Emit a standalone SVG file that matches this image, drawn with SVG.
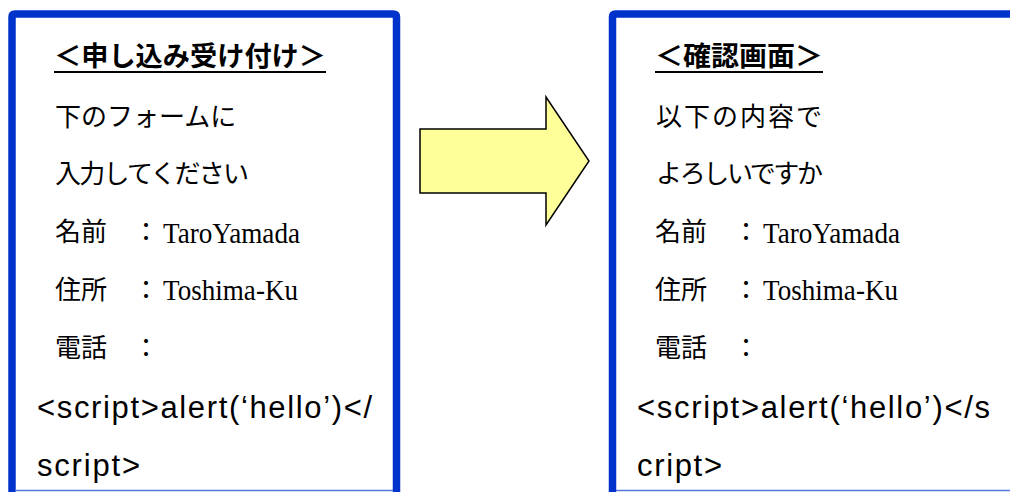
<svg xmlns="http://www.w3.org/2000/svg" width="1010" height="492" viewBox="0 0 1010 492">
<style>
.frame{fill:none;stroke:#0033CC;stroke-width:7.5;stroke-linejoin:round}
.base{stroke:#5577DD;stroke-width:1.5}
.jp{font-family:"Noto Sans CJK JP","Noto Sans",sans-serif;font-size:26px;fill:#000}
.title{font-weight:bold;font-size:27px}
.ul{stroke:#000;stroke-width:2}
.ser{font-family:"Liberation Serif",serif;font-size:29px;fill:#000}
.mono{font-family:"Liberation Sans",sans-serif;font-size:31px;fill:#000}
.arrow{fill:#FFFF99;stroke:#000;stroke-width:1.5;stroke-linejoin:miter}
</style>
<rect width="1010" height="492" fill="#fff"/>
<g id="input-screen">
  <path class="frame" d="M12,500 V17 Q12,14 15,14 H393 Q396.5,14 396.5,17 V500"/>
  <line class="base" x1="15" y1="490.5" x2="393" y2="490.5"/>
  <text class="jp title" x="54" y="66" textLength="272" lengthAdjust="spacingAndGlyphs">＜申し込み受け付け＞</text>
  <line class="ul" x1="54" y1="72" x2="326" y2="72"/>
  <text class="jp" x="55" y="126">下のフォームに</text>
  <text class="jp" x="55" y="183" textLength="194" lengthAdjust="spacing">入力してください</text>
  <text class="jp" x="55" y="241">名前　：</text>
  <text class="ser" x="163" y="243" textLength="137" lengthAdjust="spacingAndGlyphs">TaroYamada</text>
  <text class="jp" x="55" y="299">住所　：</text>
  <text class="ser" x="163" y="300" textLength="135" lengthAdjust="spacingAndGlyphs">Toshima-Ku</text>
  <text class="jp" x="55" y="357">電話　：</text>
  <text class="mono" x="37" y="418" textLength="335" lengthAdjust="spacing">&lt;script&gt;alert(‘hello’)&lt;/</text>
  <text class="mono" x="37" y="476" textLength="103" lengthAdjust="spacing">script&gt;</text>
</g>
<g id="connectors">
  <polygon class="arrow" points="420,129 546,129 546,97 589,161 546,225 546,193 420,193"/>
</g>
<g id="confirm-screen">
  <path class="frame" d="M612.5,500 V17 Q612.5,14 615.5,14 H1020"/>
  <line class="base" x1="616" y1="490.5" x2="1010" y2="490.5"/>
  <text class="jp title" x="655" y="66" textLength="168" lengthAdjust="spacingAndGlyphs">＜確認画面＞</text>
  <line class="ul" x1="655" y1="72" x2="823" y2="72"/>
  <text class="jp" x="656" y="126" textLength="166" lengthAdjust="spacing">以下の内容で</text>
  <text class="jp" x="656" y="183" textLength="167" lengthAdjust="spacing">よろしいですか</text>
  <text class="jp" x="655" y="241">名前　：</text>
  <text class="ser" x="763" y="243" textLength="137" lengthAdjust="spacingAndGlyphs">TaroYamada</text>
  <text class="jp" x="655" y="299">住所　：</text>
  <text class="ser" x="763" y="300" textLength="135" lengthAdjust="spacingAndGlyphs">Toshima-Ku</text>
  <text class="jp" x="655" y="357">電話　：</text>
  <text class="mono" x="637" y="418" textLength="353" lengthAdjust="spacing">&lt;script&gt;alert(‘hello’)&lt;/s</text>
  <text class="mono" x="637" y="476" textLength="85" lengthAdjust="spacing">cript&gt;</text>
</g>
</svg>
